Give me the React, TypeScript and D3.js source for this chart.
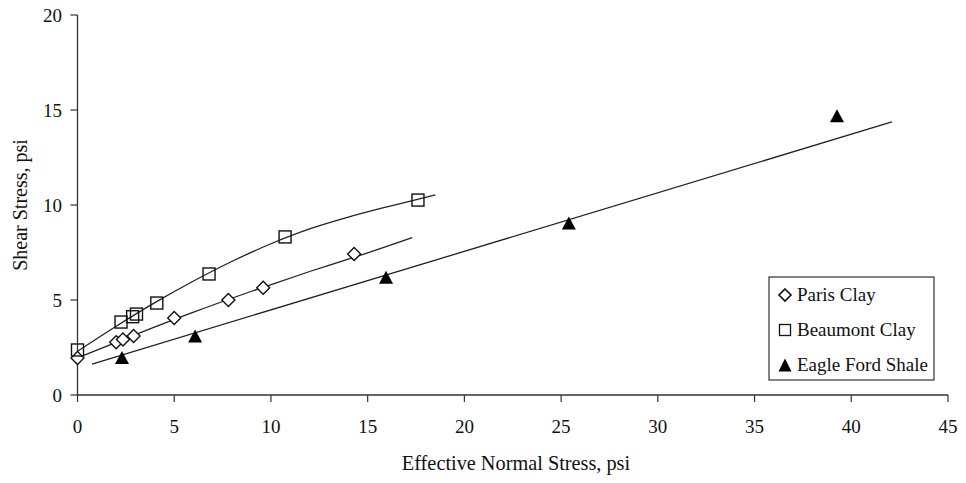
import React from "react";
import * as d3 from "d3";

// ---- data ----
const parisX = [0, 2.0, 2.35, 2.9, 5.0, 7.8, 9.6, 14.3];
const parisY = [1.95, 2.78, 2.92, 3.1, 4.05, 5.0, 5.65, 7.42];
const beaumontX = [0, 2.25, 2.85, 3.05, 4.1, 6.8, 10.73, 17.6];
const beaumontY = [2.37, 3.84, 4.12, 4.26, 4.84, 6.37, 8.32, 10.26];
const eagleX = [2.3, 6.08, 15.95, 25.4, 39.26];
const eagleY = [1.98, 3.1, 6.2, 9.05, 14.7];

// trend lines
const parisFitX = [0, 3, 6, 9, 12, 15, 17.3];
const parisFitY = [1.95, 3.18, 4.36, 5.46, 6.5, 7.48, 8.28];
const beaumontFitX = [0, 2, 4, 6, 8, 10, 12, 14, 16, 18.5];
const beaumontFitY = [2.3, 3.62, 4.86, 6.0, 7.04, 7.96, 8.74, 9.36, 9.9, 10.53];
const eagleFitX = [0.75, 42.1];
const eagleFitY = [1.63, 14.37];

const xTicks = [0, 5, 10, 15, 20, 25, 30, 35, 40, 45];
const yTicks = [0, 5, 10, 15, 20];
const legendLabels = ["Paris Clay", "Beaumont Clay", "Eagle Ford Shale"];

const W = 966;
const H = 483;
const FONT = "'Liberation Serif', 'Times New Roman', serif";

export default function App() {
  const x = d3.scaleLinear().domain([0, 45]).range([77.5, 948]);
  const y = d3.scaleLinear().domain([0, 20]).range([395, 15]);

  const zip = (xs: number[], ys: number[]) => xs.map((v, i) => [v, ys[i]] as [number, number]);
  const line = d3
    .line<[number, number]>()
    .x((d) => x(d[0]))
    .y((d) => y(d[1]))
    .curve(d3.curveCatmullRom.alpha(0.5));
  const straight = d3
    .line<[number, number]>()
    .x((d) => x(d[0]))
    .y((d) => y(d[1]));

  const diamond = (cx: number, cy: number, r: number) =>
    `M${cx},${cy - r}L${cx + r},${cy}L${cx},${cy + r}L${cx - r},${cy}Z`;
  const triangle = (cx: number, cy: number, w: number, h: number) =>
    `M${cx},${cy - h / 2}L${cx + w / 2},${cy + h / 2}L${cx - w / 2},${cy + h / 2}Z`;

  const stroke = "#222";

  return (
    <svg
      width={W}
      height={H}
      style={{ position: "absolute", left: 0, top: 0, background: "#fff" }}
      fontFamily={FONT}
    >
      <rect width={W} height={H} fill="#fff" />
      {/* axes */}
      <line x1={x(0)} x2={x(45)} y1={y(0)} y2={y(0)} stroke="#333" strokeWidth={1.3} />
      <line x1={x(0)} x2={x(0)} y1={y(0)} y2={y(20)} stroke="#333" strokeWidth={1.3} />
      {xTicks.map((t) => (
        <g key={"xt" + t}>
          <line x1={x(t)} x2={x(t)} y1={y(0)} y2={y(0) + 7} stroke="#333" strokeWidth={1.2} />
          <text x={x(t)} y={432.5} textAnchor="middle" fontSize={19} fill="#111">
            {t}
          </text>
        </g>
      ))}
      {yTicks.map((t) => (
        <g key={"yt" + t}>
          <line x1={x(0) - 7} x2={x(0)} y1={y(t)} y2={y(t)} stroke="#333" strokeWidth={1.2} />
          <text x={62} y={y(t) + 6.5} textAnchor="end" fontSize={19} fill="#111">
            {t}
          </text>
        </g>
      ))}
      <text x={516} y={470} textAnchor="middle" fontSize={20.3} fill="#111">
        Effective Normal Stress, psi
      </text>
      <text
        transform={`translate(27,205) rotate(-90)`}
        textAnchor="middle"
        fontSize={20}
        fill="#111"
      >
        Shear Stress, psi
      </text>

      {/* trend lines */}
      <path d={line(zip(parisFitX, parisFitY)) || ""} fill="none" stroke={stroke} strokeWidth={1.3} />
      <path d={line(zip(beaumontFitX, beaumontFitY)) || ""} fill="none" stroke={stroke} strokeWidth={1.3} />
      <path d={straight(zip(eagleFitX, eagleFitY)) || ""} fill="none" stroke={stroke} strokeWidth={1.3} />

      {/* markers */}
      {zip(parisX, parisY).map((d, i) => (
        <path key={"p" + i} d={diamond(x(d[0]), y(d[1]), 6.5)} fill="#fff" stroke="#111" strokeWidth={1.4} />
      ))}
      {zip(beaumontX, beaumontY).map((d, i) => (
        <rect
          key={"b" + i}
          x={x(d[0]) - 6}
          y={y(d[1]) - 6}
          width={12}
          height={12}
          fill="none"
          stroke="#111"
          strokeWidth={1.4}
        />
      ))}
      {zip(eagleX, eagleY).map((d, i) => (
        <path key={"e" + i} d={triangle(x(d[0]), y(d[1]), 14, 13)} fill="#000" />
      ))}

      {/* legend */}
      <rect x={769} y={277} width={165} height={103} fill="#fff" stroke="#333" strokeWidth={1.2} />
      {legendLabels.map((lab, i) => {
        const cy = 295 + i * 35;
        const cx = 785;
        return (
          <g key={lab}>
            {i === 0 && <path d={diamond(cx, cy, 6)} fill="#fff" stroke="#111" strokeWidth={1.6} />}
            {i === 1 && (
              <rect x={cx - 5.5} y={cy - 5.5} width={11} height={11} fill="#fff" stroke="#111" strokeWidth={1.3} />
            )}
            {i === 2 && <path d={triangle(cx, cy, 13, 13)} fill="#000" />}
            <text x={797} y={cy + 6} fontSize={19} fill="#111">
              {lab}
            </text>
          </g>
        );
      })}
    </svg>
  );
}
